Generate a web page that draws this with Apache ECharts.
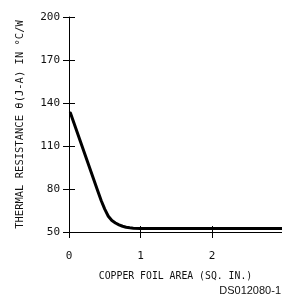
<!DOCTYPE html>
<html>
<head>
<meta charset="utf-8">
<style>
  html, body { margin: 0; padding: 0; background: #fff; }
  #chart { width: 282px; height: 295px; }
</style>
<script src="https://cdn.jsdelivr.net/npm/echarts@6/dist/echarts.min.js"></script>
</head>
<body>
<div id="chart"></div>
<script>
// copper foil area (sq. in.) vs thermal resistance
var areaValues = [0.02, 0.4, 0.45, 0.5, 0.55, 0.6, 0.65, 0.7, 0.75, 0.8, 0.85, 0.9, 1.0, 2.98];
var resistanceValues = [133, 79, 72, 66, 61, 58, 56.3, 55, 54, 53.3, 52.9, 52.7, 52.5, 52.5];
var yTicks = [50, 80, 110, 140, 170, 200];
var xTicks = [0, 1, 2];

var axisFont = "DejaVu Sans Mono";

var points = areaValues.map(function (a, i) {
    return [a, resistanceValues[i]];
});

var chart = echarts.init(document.getElementById("chart"), null, { renderer: "canvas" });

var option = {
    backgroundColor: "#ffffff",
    animation: false,
    grid: { left: 69, top: 17, width: 213, bottom: 63 },
    xAxis: [
        {
            type: "value",
            min: 0,
            max: 2.98,
            interval: 1,
            name: "COPPER FOIL AREA (SQ. IN.)",
            nameLocation: "middle",
            nameGap: 39,
            nameTextStyle: { fontFamily: axisFont, fontSize: 9.8, color: "#111" },
            axisLine: { lineStyle: { color: "#000", width: 1 } },
            axisTick: { length: 6, lineStyle: { color: "#000" } },
            axisLabel: {
                fontFamily: axisFont,
                fontSize: 11,
                color: "#111",
                margin: 19,
                showMaxLabel: false,
                formatter: function (v) {
                    return xTicks.indexOf(v) >= 0 ? String(v) : "";
                }
            },
            splitLine: { show: false }
        },
        {
            type: "value",
            min: 0,
            max: 2.98,
            interval: 1,
            position: "bottom",
            axisLine: { show: false },
            axisTick: { inside: true, length: 6, lineStyle: { color: "#000" } },
            axisLabel: { show: false },
            splitLine: { show: false }
        }
    ],
    yAxis: [
        {
            type: "value",
            min: 50,
            max: 200,
            interval: 30,
            name: "THERMAL RESISTANCE \u03b8(J-A) IN \u00b0C/W",
            nameLocation: "middle",
            nameGap: 43,
            nameTextStyle: { fontFamily: axisFont, fontSize: 10.5, color: "#111" },
            axisLine: { show: true, lineStyle: { color: "#000", width: 1 } },
            axisTick: { show: true, length: 6, lineStyle: { color: "#000" } },
            axisLabel: {
                fontFamily: axisFont,
                fontSize: 11,
                color: "#111",
                margin: 9,
                formatter: function (v) {
                    return yTicks.indexOf(v) >= 0 ? String(v) : "";
                }
            },
            splitLine: { show: false }
        },
        {
            type: "value",
            min: 50,
            max: 200,
            interval: 30,
            position: "left",
            axisLine: { show: false },
            axisTick: { show: true, inside: true, length: 6, lineStyle: { color: "#000" } },
            axisLabel: { show: false },
            splitLine: { show: false }
        }
    ],
    graphic: [
        {
            type: "text",
            right: 1,
            top: 285,
            style: {
                text: "DS012080-1",
                fontFamily: "Liberation Sans",
                fontSize: 11,
                fill: "#111"
            }
        }
    ],
    series: [
        {
            type: "line",
            data: points,
            smooth: false,
            showSymbol: false,
            lineStyle: { color: "#000", width: 3, join: "round", cap: "round" },
            clip: false
        }
    ]
};

chart.setOption(option);
</script>
</body>
</html>
